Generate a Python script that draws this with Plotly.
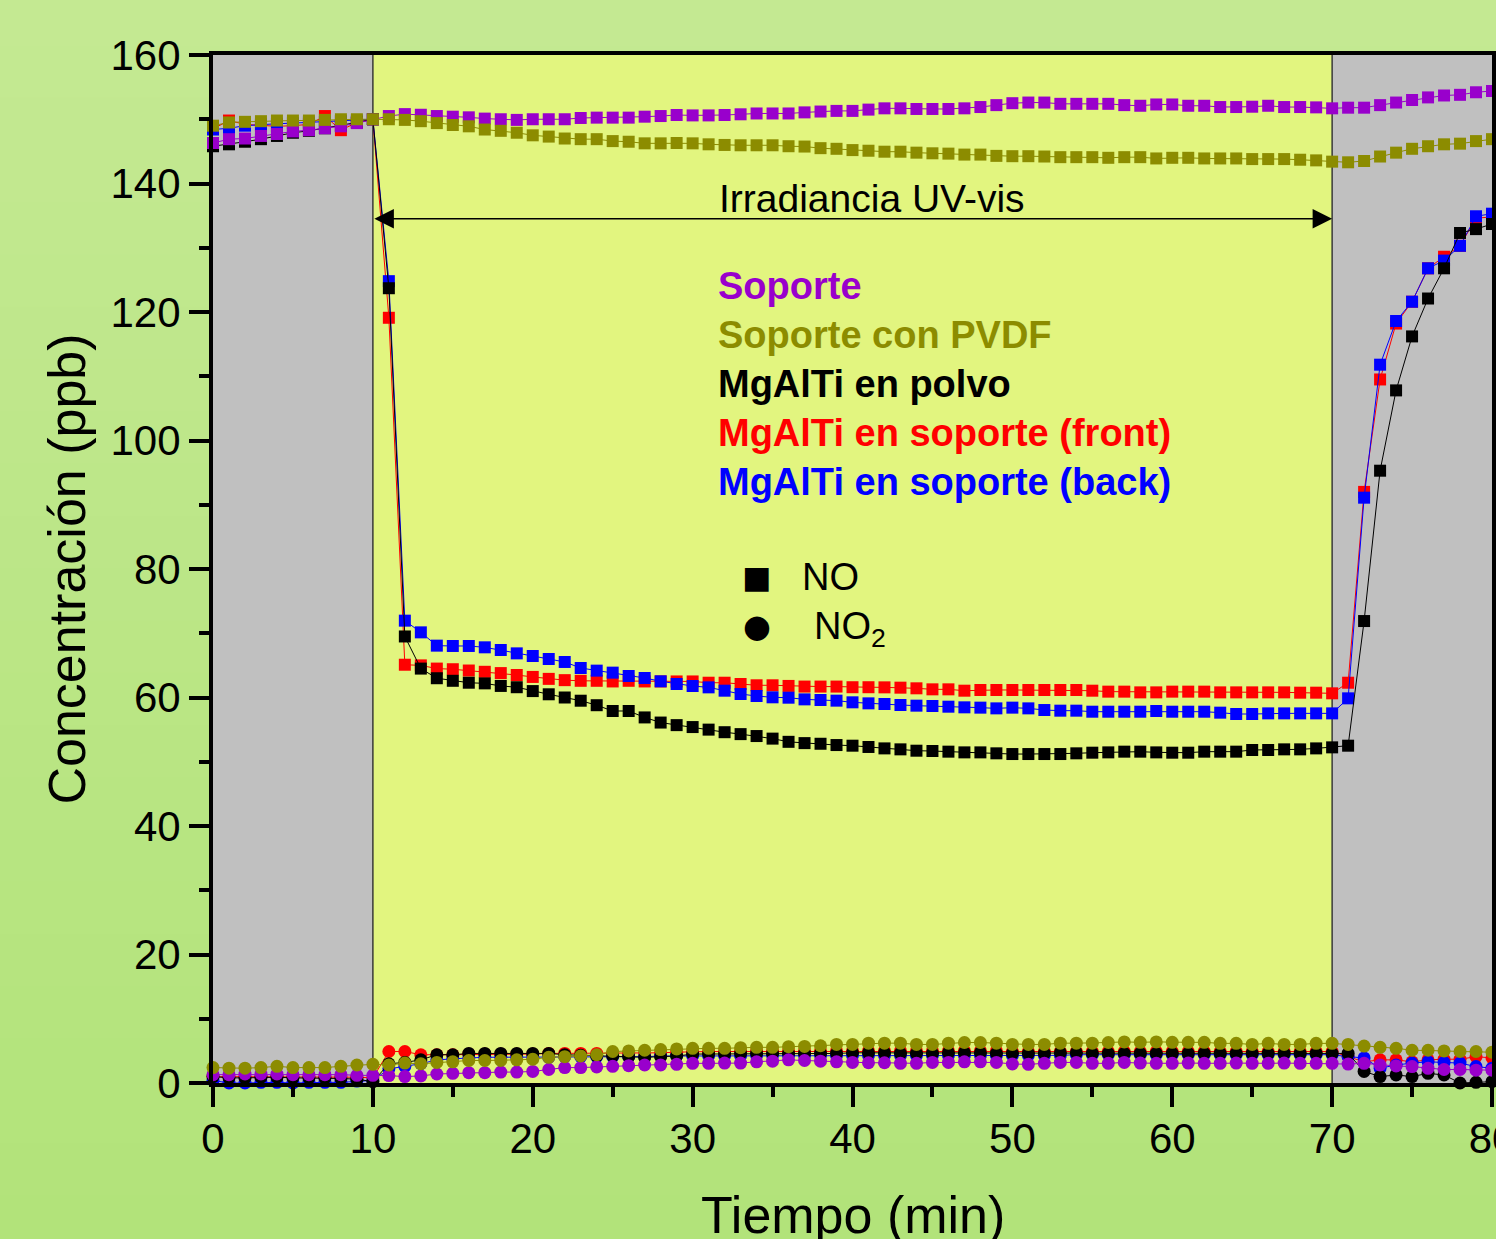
import plotly.graph_objects as go

# ---------------- data ----------------
time_min = list(range(0, 81))

no_soporte = [146.3, 146.9, 147.0, 147.4, 147.7, 148.1, 148.3, 148.6, 148.9, 149.4, 150.0,
              150.5, 150.8, 150.7, 150.5, 150.4, 150.3, 150.1, 150.0, 149.9, 150.0, 150.0, 150.0, 150.2,
              150.25, 150.25, 150.25, 150.4, 150.5, 150.66, 150.6, 150.6, 150.66, 150.77, 150.9, 150.9,
              150.9, 151.07, 151.2, 151.3, 151.3, 151.5, 151.7, 151.7, 151.6, 151.6, 151.6, 151.7,
              151.9, 152.2, 152.5, 152.6, 152.6, 152.4, 152.4, 152.4, 152.4, 152.2, 152.1, 152.3,
              152.3, 152.1, 152.1, 151.9, 151.9, 151.95, 152.1, 151.9,
              151.9, 151.85, 151.7, 151.8, 151.8, 152.2, 152.6, 153.0, 153.4, 153.7, 153.8, 154.2, 154.4]

no_pvdf = [149.0, 149.5, 149.6, 149.7, 149.8, 149.8, 149.8, 149.9, 150.0, 150.0, 150.0,
           150.0, 149.9, 149.7, 149.4, 149.1, 148.9, 148.4, 148.2, 147.9, 147.5, 147.3, 147.0, 146.9,
           146.9, 146.6, 146.5, 146.25, 146.25, 146.3, 146.25, 146.1, 146.0, 145.95, 145.95, 145.95,
           145.8, 145.75, 145.5, 145.4, 145.2, 145.1, 144.95, 144.95, 144.8, 144.7, 144.65, 144.5,
           144.5, 144.3, 144.25, 144.25, 144.2, 144.1, 144.1, 144.1, 144.0, 144.1, 144.1, 143.9,
           144.0, 144.0, 143.9, 143.9, 143.9, 143.8, 143.8, 143.8,
           143.7, 143.6, 143.4, 143.3, 143.5, 144.2, 144.8, 145.4, 145.8, 146.1, 146.2, 146.6, 146.9]

no_polvo = [145.8, 146.1, 146.5, 146.9, 147.4, 147.9, 148.2, 148.6, 149.0, 149.5, 150.0,
            123.7,
            69.5, 64.5, 63.0, 62.6, 62.3, 62.2, 61.8, 61.6, 61.0, 60.5, 60.0, 59.5, 58.8, 57.9, 57.9,
            56.9, 56.1, 55.7, 55.4, 55.0, 54.6, 54.3, 54.0, 53.6, 53.1, 52.9, 52.8, 52.6, 52.5, 52.3,
            52.08, 51.93, 51.72, 51.67, 51.57, 51.46, 51.46, 51.31, 51.2, 51.2, 51.2, 51.2, 51.31,
            51.41, 51.46, 51.57, 51.57, 51.46, 51.41, 51.41, 51.57, 51.57, 51.57, 51.83, 51.83,
            51.93, 51.93, 52.08, 52.24, 52.5,
            71.9, 95.3, 107.8, 116.2, 122.1, 126.8, 132.3, 132.9, 133.7]

no_front = [148.5, 149.8, 149.2, 149.0, 148.9, 149.0, 149.2, 150.5, 148.3, 149.5, 150.0,
            119.1,
            65.1, 65.0, 64.5, 64.4, 64.2, 64.0, 63.8, 63.5, 63.2, 62.9, 62.7, 62.6, 62.6, 62.5, 62.6,
            62.5, 62.5, 62.5, 62.5, 62.3, 62.3, 62.1, 61.9, 61.9, 61.8, 61.7, 61.7, 61.7, 61.6, 61.6,
            61.58, 61.53, 61.43, 61.27, 61.27, 61.06, 61.17, 61.17, 61.17, 61.17, 61.17, 61.17, 61.17,
            61.06, 60.91, 60.91, 60.80, 60.80, 60.91, 60.91, 60.91, 60.80, 60.80, 60.80, 60.80,
            60.80, 60.75, 60.75, 60.65, 62.3,
            92.0, 109.5, 118.2, 121.6, 126.8, 128.6, 130.3, 134.6, 134.8]

no_back = [148.4, 148.6, 149.0, 149.2, 149.3, 149.4, 149.5, 149.6, 149.7, 149.8, 150.0,
           124.8,
           71.96, 70.14, 68.07, 68.02, 68.02, 67.81, 67.39, 66.87, 66.46, 65.99, 65.53, 64.59, 64.18,
           63.87, 63.35, 63.04, 62.52, 62.10, 61.79, 61.58, 61.06, 60.54, 60.23, 60.03, 59.97, 59.71,
           59.61, 59.51, 59.25, 59.09,
           58.99, 58.83, 58.73, 58.68, 58.57, 58.47, 58.42, 58.31, 58.42, 58.31, 58.05, 57.95, 57.95,
           57.79, 57.79, 57.79, 57.79, 57.9, 57.79, 57.79, 57.79, 57.64, 57.43, 57.43, 57.53, 57.53,
           57.53, 57.53, 57.53, 59.87,
           91.1, 111.8, 118.6, 121.6, 126.8, 128.0, 130.3, 134.9, 135.3]

no2_soporte = [1.3, 1.3, 1.4, 1.4, 1.4, 1.3, 1.3, 1.3, 1.3, 1.2, 1.2,
               1.15, 1.0, 1.1, 1.4, 1.5, 1.6, 1.6, 1.7, 1.7, 1.8, 2.1, 2.4, 2.4, 2.5, 2.6, 2.7, 2.8, 2.8, 2.9,
               3.06, 3.06, 3.1, 3.1, 3.3, 3.4, 3.6, 3.5, 3.4, 3.3, 3.2, 3.15, 3.15, 3.06, 3.06, 3.2, 3.2,
               3.3, 3.3, 3.2, 2.96, 2.9, 3.06, 3.2, 3.2, 3.06, 3.06, 3.2,
               3.1, 3.06, 3.06, 3.1, 3.06, 3.06, 3.1, 3.06, 3.06, 3.1, 3.06, 3.06, 3.06,
               2.95, 3.06, 2.8, 2.65, 2.55, 2.28, 2.1, 2.1, 2.0, 2.0]

no2_pvdf = [2.4, 2.3, 2.3, 2.4, 2.6, 2.4, 2.4, 2.4, 2.6, 2.8, 2.9,
            2.8, 3.1, 3.0, 3.2, 3.3, 3.5, 3.5, 3.5, 3.6, 3.7, 4.0, 4.1, 4.2, 4.4, 4.9, 5.0, 5.1, 5.2, 5.3,
            5.4, 5.4, 5.4, 5.5, 5.55, 5.55, 5.65, 5.7, 5.8, 6.0, 6.0, 6.2, 6.2, 6.2, 6.0, 6.0, 6.2,
            6.3, 6.3, 6.2, 6.0, 6.0, 6.0, 6.2, 6.2, 6.2, 6.3, 6.4,
            6.33, 6.4, 6.33, 6.33, 6.33, 6.17, 6.17, 6.0, 6.17, 6.0, 6.0, 6.17, 6.17,
            6.0, 5.75, 5.55, 5.4, 5.1, 5.1, 5.0, 4.9, 4.9, 4.8]

no2_polvo = [1.0, 0.8, 0.8, 0.9, 0.9, 0.8, 0.8, 0.8, 0.7, 0.6, 0.2,
             3.0, 3.2, 3.6, 4.4, 4.4, 4.6, 4.6, 4.6, 4.6, 4.6, 4.6, 4.4, 4.3, 4.2, 4.2, 4.1, 4.0, 4.1, 4.2,
             4.5, 4.5, 4.5, 4.6, 4.6, 4.6, 4.6, 4.6, 4.6, 4.6, 4.7, 4.7, 4.7, 4.6, 4.6, 4.6, 4.7,
             4.7, 4.7, 4.6, 4.6, 4.6, 4.6, 4.7, 4.7, 4.6, 4.6, 4.6,
             4.6, 4.6, 4.6, 4.6, 4.6, 4.6, 4.6, 4.6, 4.6, 4.6, 4.6, 4.6, 4.6,
             4.6, 1.8, 1.0, 1.25, 1.0, 1.5, 1.25, 0.0, 0.1, 0.2]

no2_front = [1.0, 1.0, 0.9, 0.9, 1.0, 1.0, 1.0, 0.9, 1.0, 0.9, 0.8,
             4.9, 4.9, 4.4, 4.4, 4.4, 4.5, 4.5, 4.5, 4.5, 4.5, 4.6, 4.6, 4.6, 4.6, 4.6, 4.6, 4.7, 4.7, 4.8,
             4.9, 4.9, 4.9, 4.9, 5.0, 5.0, 5.0, 5.0, 5.0, 5.0, 5.0, 5.0, 5.0, 5.0, 5.0, 5.0, 5.0,
             5.0, 5.0, 5.0, 4.9, 4.9, 4.9, 4.9, 4.9, 4.9, 4.9, 4.9,
             4.9, 4.9, 4.9, 4.9, 4.9, 4.9, 4.9, 4.9, 4.9, 4.9, 4.9, 4.9, 4.9,
             4.1, 3.3, 3.6, 3.6, 3.3, 3.6, 3.7, 3.7, 4.1, 3.9]

no2_back = [0.4, 0.0, 0.0, 0.1, 0.1, 0.0, 0.1, 0.1, 0.1, 0.3, 0.4,
            2.2, 2.6, 3.0, 3.6, 3.8, 3.9, 4.0, 4.0, 4.0, 4.0, 4.0, 4.1, 4.1, 4.1, 4.1, 4.1, 4.1, 4.2, 4.2,
            4.2, 4.2, 4.2, 4.2, 4.3, 4.3, 4.3, 4.3, 4.3, 4.3, 4.3, 4.3, 4.3, 4.3, 4.3, 4.3, 4.3,
            4.3, 4.3, 4.3, 4.3, 4.3, 4.3, 4.3, 4.4, 4.4, 4.4, 4.4,
            4.4, 4.4, 4.4, 4.4, 4.4, 4.4, 4.4, 4.4, 4.4, 4.4, 4.4, 4.4, 4.4,
            4.1, 3.9, 2.3, 2.8, 3.1, 3.3, 3.2, 3.1, 2.55, 2.3]

series_names = ["Soporte", "Soporte con PVDF", "MgAlTi en polvo",
                "MgAlTi en soporte (front)", "MgAlTi en soporte (back)"]
series_colors = ["#9900cc", "#8c8c00", "#000000", "#ff0000", "#0000ff"]

x_ticks = [0, 10, 20, 30, 40, 50, 60, 70, 80]
y_ticks = [0, 20, 40, 60, 80, 100, 120, 140, 160]

light_start, light_end = 10, 70
arrow_level = 134.5

FONT = "Liberation Sans, Arial, sans-serif"

# ---------------- figure ----------------
fig = go.Figure()

# drawing order: front (red), back (blue), polvo (black), soporte (purple), pvdf (olive)
order = [3, 4, 2, 0, 1]
no_data = [no_soporte, no_pvdf, no_polvo, no_front, no_back]
no2_data = [no2_soporte, no2_pvdf, no2_polvo, no2_front, no2_back]

for i in order:
    fig.add_trace(go.Scatter(
        x=time_min, y=no2_data[i], mode="lines+markers", name=series_names[i] + " NO2",
        line=dict(color=series_colors[i], width=1),
        marker=dict(symbol="circle", size=13, color=series_colors[i], line=dict(width=0)),
        cliponaxis=False, showlegend=False))
for i in order:
    fig.add_trace(go.Scatter(
        x=time_min, y=no_data[i], mode="lines+markers", name=series_names[i] + " NO",
        line=dict(color=series_colors[i], width=1),
        marker=dict(symbol="square", size=12, color=series_colors[i], line=dict(width=0)),
        cliponaxis=False, showlegend=False))

shapes = []
# background gradient (paper)
top_rgb = (196, 233, 146)
bot_rgb = (178, 227, 122)
nb = 24
for k in range(nb):
    f = k / (nb - 1)
    c = tuple(round(top_rgb[j] + (bot_rgb[j] - top_rgb[j]) * f) for j in range(3))
    y1 = 1.06 - k * (1.06 + 0.16) / nb
    y0 = y1 - (1.06 + 0.16) / nb - 0.002
    shapes.append(dict(type="rect", xref="paper", yref="paper", x0=-0.2, x1=1.05,
                       y0=y0, y1=y1, fillcolor="rgb(%d,%d,%d)" % c, line=dict(width=0),
                       layer="below"))
# regions
shapes.append(dict(type="rect", xref="x", yref="paper", x0=0, x1=light_start, y0=0, y1=1,
                   fillcolor="#c0c0c0", line=dict(width=0), layer="below"))
shapes.append(dict(type="rect", xref="x", yref="paper", x0=light_start, x1=light_end, y0=0, y1=1,
                   fillcolor="#e2f57f", line=dict(width=0), layer="below"))
shapes.append(dict(type="rect", xref="x", yref="paper", x0=light_end, x1=80, y0=0, y1=1,
                   fillcolor="#c0c0c0", line=dict(width=0), layer="below"))
for xv in (light_start, light_end):
    shapes.append(dict(type="line", xref="x", yref="paper", x0=xv, x1=xv, y0=0, y1=1,
                       line=dict(color="#3a3a3a", width=1.5), layer="below"))

annotations = []
# double arrow
annotations.append(dict(x=light_end, y=arrow_level, ax=light_start, ay=arrow_level,
                        xref="x", yref="y", axref="x", ayref="y", text="",
                        showarrow=True, arrowside="end+start", arrowhead=2,
                        arrowsize=2.6, arrowwidth=1.5, arrowcolor="#000000"))
annotations.append(dict(x=41.2, y=137.7, xref="x", yref="y", text="Irradiancia UV-vis",
                        showarrow=False, font=dict(family=FONT, size=39, color="#000000")))
leg_y = [124.0, 116.4, 108.8, 101.2, 93.5]
for i in range(5):
    annotations.append(dict(x=31.45, y=leg_y[i], xref="x", yref="y", xanchor="left",
                            text="<b>%s</b>" % series_names[i], showarrow=False,
                            font=dict(family=FONT, size=38, color=series_colors[i])))
annotations.append(dict(x=34.0, y=78.8, xref="x", yref="y", text="■", showarrow=False,
                        font=dict(family="DejaVu Sans", size=31, color="#000000")))
annotations.append(dict(x=36.7, y=78.8, xref="x", yref="y", xanchor="left", text="NO",
                        showarrow=False, font=dict(family=FONT, size=38, color="#000000")))
annotations.append(dict(x=34.0, y=71.1, xref="x", yref="y", text="●", showarrow=False,
                        font=dict(family="DejaVu Sans", size=32, color="#000000")))
annotations.append(dict(x=37.45, y=70.6, xref="x", yref="y", xanchor="left",
                        text="NO<sub>2</sub>", showarrow=False,
                        font=dict(family=FONT, size=38, color="#000000")))
# x-axis title (placed as paper annotation for exact position)
annotations.append(dict(x=0.5, y=-0.1285, xref="paper", yref="paper", text="Tiempo (min)",
                        xanchor="center", yanchor="middle", showarrow=False,
                        font=dict(family=FONT, size=52, color="#000000")))

axis_common = dict(showline=True, linecolor="#000000", linewidth=4, mirror=True,
                   ticks="outside", ticklen=20, tickwidth=4, tickcolor="#000000",
                   showgrid=False, zeroline=False, ticklabeloverflow="allow",
                   automargin=False,
                   tickfont=dict(family=FONT, size=42, color="#000000"))

fig.update_layout(
    width=1496, height=1239,
    margin=dict(l=213, r=4, t=55, b=156),
    paper_bgcolor="#bde688", plot_bgcolor="rgba(0,0,0,0)",
    showlegend=False,
    shapes=shapes, annotations=annotations,
    xaxis=dict(range=[0, 80], tickvals=x_ticks, ticklabelstandoff=-4,
               minor=dict(dtick=5, ticklen=10, tickwidth=4, tickcolor="#000000", ticks="outside"),
               **axis_common),
    yaxis=dict(range=[0, 160], tickvals=y_ticks,
               minor=dict(dtick=10, ticklen=10, tickwidth=4, tickcolor="#000000", ticks="outside"),
               title=dict(text="Concentración (ppb)", font=dict(family=FONT, size=52, color="#000000"),
                          standoff=9),
               **axis_common),
)

fig.write_html("out.html", config={"displayModeBar": False},
               post_script="document.body.style.margin='0';"
                           "document.body.style.overflow='hidden';"
                           "document.body.style.background='#bde688';")
